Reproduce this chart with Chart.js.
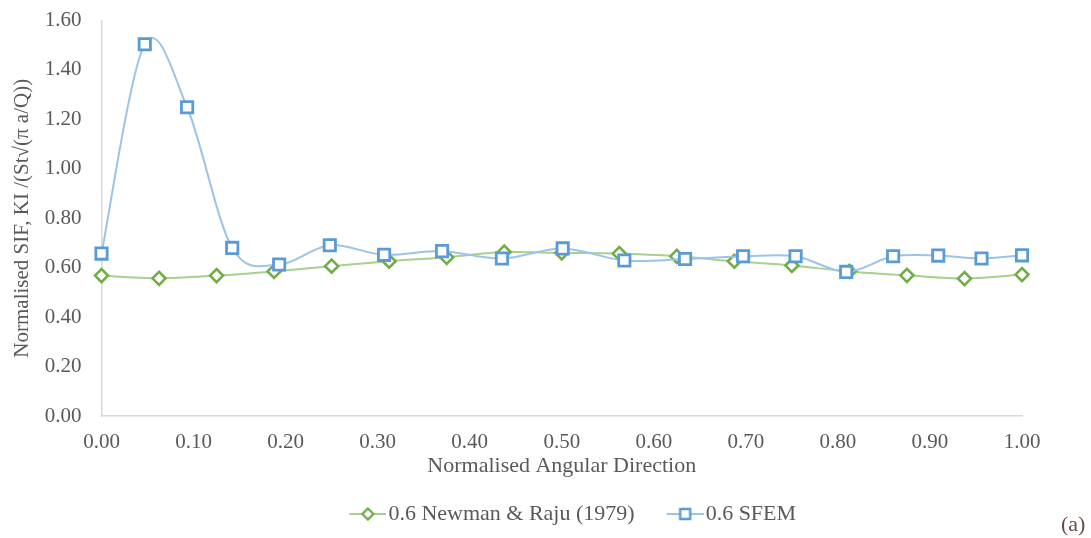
<!DOCTYPE html>
<html>
<head>
<meta charset="utf-8">
<script src="https://cdn.jsdelivr.net/npm/chart.js@4.4.1/dist/chart.umd.min.js"></script>
<style>
  html, body { margin: 0; padding: 0; background: #fff; }
  #wrap { position: relative; width: 1091px; height: 538px; }
  #tag { position: absolute; left: 1061px; top: 511px; font: 22px 'Liberation Serif', 'Times New Roman', serif; color: #6e4848; }
</style>
</head>
<body>
<div id="wrap">
  <canvas id="chart" width="1091" height="538"></canvas>
  <div id="tag">(a)</div>
</div>
<script>
// ── Data ────────────────────────────────────────────────────────────────
const SERIES_NAMES = ['0.6 Newman & Raju (1979)', '0.6 SFEM'];

const NR_X = [0, 0.0625, 0.125, 0.1875, 0.25, 0.3125, 0.375, 0.4375, 0.5,
              0.5625, 0.625, 0.6875, 0.75, 0.8125, 0.875, 0.9375, 1.0];
const NR_Y = [0.568, 0.557, 0.568, 0.585, 0.606, 0.626, 0.642, 0.663, 0.660,
              0.657, 0.646, 0.626, 0.609, 0.585, 0.569, 0.556, 0.572];

const SFEM_X = [0, 0.047, 0.093, 0.142, 0.193, 0.248, 0.307, 0.370, 0.435, 0.501,
                0.568, 0.634, 0.697, 0.754, 0.809, 0.860, 0.909, 0.956, 1.0];
const SFEM_Y = [0.657, 1.504, 1.249, 0.680, 0.613, 0.691, 0.652, 0.667, 0.637, 0.678,
                0.629, 0.635, 0.646, 0.646, 0.583, 0.646, 0.649, 0.637, 0.650];

const X_TITLE = 'Normalised Angular Direction';
const Y_TITLE = 'Normalised SIF, KI /(St\u221A(\u03C0 a/Q))';

const TEXT = '#595959';
const AXIS = '#d9d9d9';
const GREEN = { line: '#a9d18e', mark: '#70ad47' };
const BLUE  = { line: '#9dc3e6', mark: '#5b9bd5' };
const SERIF = "'Liberation Serif', 'Times New Roman', serif";

// legend symbol: short line with the marker in the middle
function legendIcon(color, shape) {
  const c = document.createElement('canvas');
  c.width = 68; c.height = 16;
  const g = c.getContext('2d');
  g.strokeStyle = color.line; g.lineWidth = 2;
  g.beginPath(); g.moveTo(31, 8); g.lineTo(68, 8); g.stroke();
  g.fillStyle = '#fff'; g.strokeStyle = color.mark; g.lineWidth = 2.4;
  g.beginPath();
  if (shape === 'diamond') {
    g.moveTo(49.5, 2.5); g.lineTo(55, 8); g.lineTo(49.5, 13.5); g.lineTo(44, 8); g.closePath();
  } else {
    g.rect(44.5, 3, 10, 10);
  }
  g.fill(); g.stroke();
  return c;
}
const ICONS = [legendIcon(GREEN, 'diamond'), legendIcon(BLUE, 'square')];

const toPoints = (xs, ys) => xs.map((x, i) => ({ x, y: ys[i] }));

// Excel-style smoothing: uniform Catmull-Rom tangents (chord / 6)
const excelSmooth = {
  id: 'excelSmooth',
  beforeDatasetsDraw(chart) {
    chart.data.datasets.forEach((ds, di) => {
      const meta = chart.getDatasetMeta(di);
      meta.dataset.updateControlPoints(chart.chartArea, 'x');
      const pts = meta.data;
      pts.forEach((p, i) => {
        const prev = pts[i - 1] || p;
        const next = pts[i + 1] || p;
        const dx = (next.x - prev.x) / 6;
        const dy = (next.y - prev.y) / 6;
        p.cp1x = p.x - dx; p.cp1y = p.y - dy;
        p.cp2x = p.x + dx; p.cp2y = p.y + dy;
      });
    });
  }
};

new Chart(document.getElementById('chart'), {
  type: 'line',
  data: {
    datasets: [
      {
        label: SERIES_NAMES[0],
        data: toPoints(NR_X, NR_Y),
        borderColor: GREEN.line,
        borderWidth: 2,
        pointStyle: 'rectRot',
        pointRadius: 6.5,
        pointBorderWidth: 2.6,
        pointBorderColor: GREEN.mark,
        pointBackgroundColor: '#fff',
        tension: 0.4,
        clip: false,
        order: 1
      },
      {
        label: SERIES_NAMES[1],
        data: toPoints(SFEM_X, SFEM_Y),
        borderColor: BLUE.line,
        borderWidth: 2,
        pointStyle: 'rect',
        pointRadius: 8,
        pointBorderWidth: 2.8,
        pointBorderColor: BLUE.mark,
        pointBackgroundColor: '#fff',
        tension: 0.4,
        clip: false,
        order: 0
      }
    ]
  },
  plugins: [excelSmooth],
  options: {
    responsive: false,
    animation: false,
    layout: { padding: { left: 4, right: 69, top: 20.5, bottom: 3 } },
    plugins: {
      tooltip: { enabled: false },
      legend: {
        position: 'bottom',
        fullSize: false,
        labels: {
          usePointStyle: true,
          pointStyleWidth: 50,
          padding: 10,
          color: TEXT,
          font: { family: SERIF, size: 22 },
          sort: (a, b) => a.datasetIndex - b.datasetIndex,
          generateLabels(chart) {
            const items = Chart.defaults.plugins.legend.labels.generateLabels(chart);
            items.forEach(it => { it.pointStyle = ICONS[it.datasetIndex]; });
            return items;
          }
        }
      }
    },
    scales: {
      x: {
        type: 'linear',
        min: 0, max: 1,
        grid: { display: false, drawTicks: false },
        border: { display: true, color: AXIS, width: 1.5 },
        ticks: {
          stepSize: 0.1, padding: 14, color: TEXT,
          font: { family: SERIF, size: 21 },
          callback: v => v.toFixed(2)
        },
        title: {
          display: true, text: X_TITLE, color: TEXT,
          font: { family: SERIF, size: 22 },
          padding: { top: 0, bottom: 14 }
        },
        afterFit(scale) { scale.height = 77; }
      },
      y: {
        min: 0, max: 1.6,
        // invisible tick marks give the label gap without padding the top
        grid: {
          display: true, drawOnChartArea: false, drawTicks: true,
          tickLength: 20, tickColor: 'rgba(0,0,0,0)', color: 'rgba(0,0,0,0)'
        },
        border: { display: true, color: AXIS, width: 1.5 },
        ticks: {
          stepSize: 0.2, padding: 0, color: TEXT,
          font: { family: SERIF, size: 21 },
          callback: v => v.toFixed(2)
        },
        title: {
          display: true, text: Y_TITLE, color: TEXT,
          font: { family: SERIF, size: 21 },
          padding: { top: 6, bottom: 0 }
        },
        afterFit(scale) { scale.width = 97.5; }
      }
    }
  }
});
</script>
</body>
</html>
